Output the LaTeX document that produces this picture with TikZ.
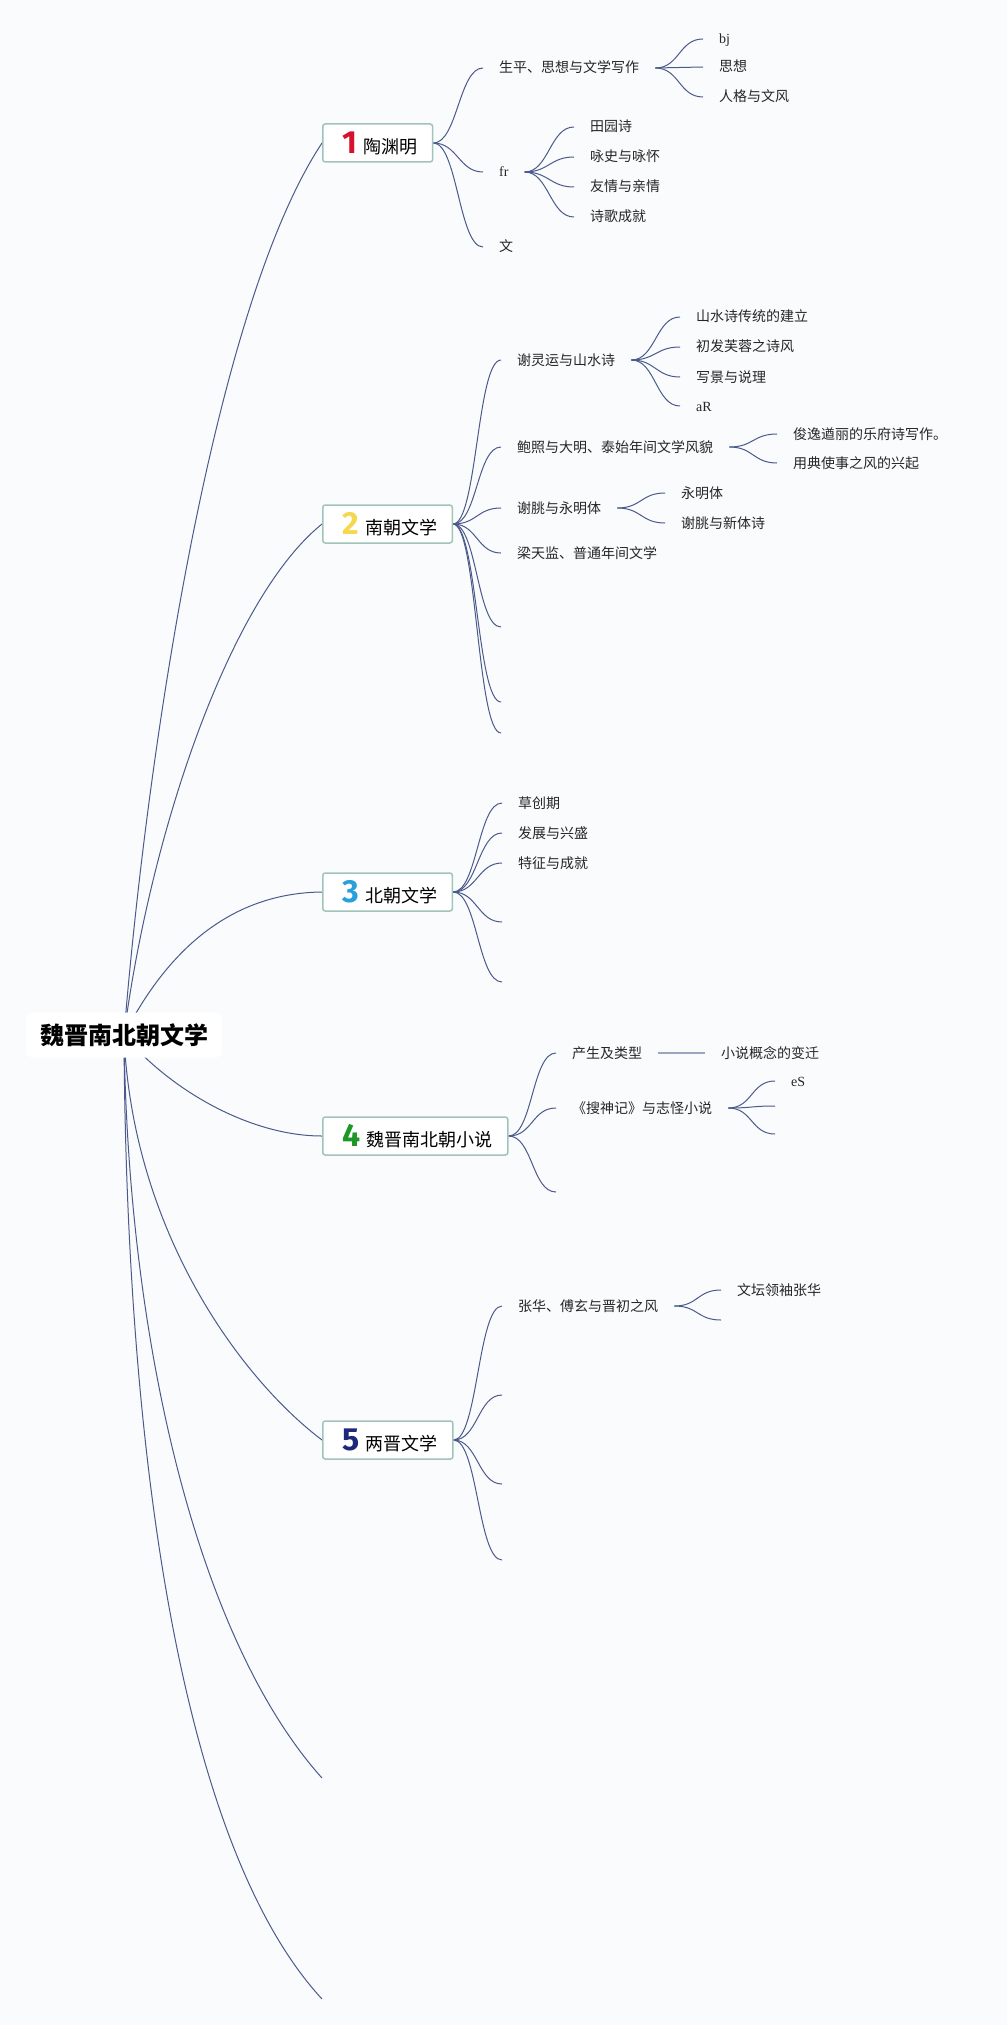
\documentclass[tikz,border=0pt]{standalone}
\usepackage{fontspec}
\usetikzlibrary{backgrounds}
\newfontfamily\cjk{Noto Sans CJK SC}
\newfontfamily\latn{Liberation Serif}
\newfontfamily\numfont{Fira Sans}
\definecolor{linkc}{RGB}{75,90,140}
\definecolor{boxc}{RGB}{160,196,185}
\definecolor{bgc}{RGB}{250,251,252}
\definecolor{n1}{RGB}{214,18,45}
\definecolor{n2}{RGB}{245,215,80}
\definecolor{n3}{RGB}{40,160,220}
\definecolor{n4}{RGB}{30,150,40}
\definecolor{n5}{RGB}{30,40,120}
\newcommand{\bnum}[2]{{\numfont\bfseries\fontsize{32pt}{32pt}\selectfont\color{#1}#2}}

\begin{document}
\begin{tikzpicture}[x=1pt,y=-1pt,
        link/.style={draw=linkc,line width=1pt},
        rootbox/.style={fill=white,rounded corners=6pt,minimum width=196pt,minimum height=45pt,
          font=\cjk\bfseries\fontsize{24pt}{28pt}\selectfont},
        mainbox/.style={draw=boxc,line width=1.5pt,fill=white,rounded corners=2.5pt,anchor=west,
          minimum height=38pt,inner xsep=0pt,inner ysep=0pt,font=\cjk\fontsize{18pt}{20pt}\selectfont},
        leaf/.style={anchor=west,inner xsep=16pt,inner ysep=0pt,text height=12pt,text depth=2pt,
          text=black!85,font=\cjk\fontsize{14pt}{16pt}\selectfont},
        latin/.style={leaf,font=\latn\fontsize{14pt}{16pt}\selectfont}
      ]
      \useasboundingbox (0,0) rectangle (1007,2025);
      \node [rootbox] (root) at (124,1035) {魏晋南北朝文学};
      \node [mainbox] (b1) at (322,143) {\hspace*{20pt}\bnum{n1}{1}\hspace{6pt}陶渊明\hspace*{15pt}};
      \node [mainbox] (b2) at (322,524) {\hspace*{20pt}\bnum{n2}{2}\hspace{6pt}南朝文学\hspace*{15pt}};
      \node [mainbox] (b3) at (322,892) {\hspace*{20pt}\bnum{n3}{3}\hspace{6pt}北朝文学\hspace*{15pt}};
      \node [mainbox] (b4) at (322,1136) {\hspace*{20pt}\bnum{n4}{4}\hspace{6pt}魏晋南北朝小说\hspace*{15pt}};
      \node [mainbox] (b5) at (322,1440) {\hspace*{20pt}\bnum{n5}{5}\hspace{6pt}两晋文学\hspace*{15pt}};
      \coordinate (b6) at (322,1778);
      \coordinate (b7) at (322,1999);
      % 陶渊明
      \node [leaf] (b1a) at (483,68) {生平、思想与文学写作};
      \node [latin] (b1b) at (483,172) {fr};
      \node [leaf] (b1c) at (483,247) {文};
      \node [latin] (b1a1) at (703,39) {bj};
      \node [leaf] (b1a2) at (703,67) {思想};
      \node [leaf] (b1a3) at (703,97) {人格与文风};
      \node [leaf] (b1b1) at (574,127) {田园诗};
      \node [leaf] (b1b2) at (574,157) {咏史与咏怀};
      \node [leaf] (b1b3) at (574,187) {友情与亲情};
      \node [leaf] (b1b4) at (574,217) {诗歌成就};
      % 南朝文学
      \node [leaf] (b2a) at (501,360) {谢灵运与山水诗};
      \node [leaf] (b2b) at (501,447) {鲍照与大明、泰始年间文学风貌};
      \node [leaf] (b2c) at (501,508) {谢朓与永明体};
      \node [leaf] (b2d) at (501,553) {梁天监、普通年间文学};
      \coordinate (b2e) at (501,627);
      \coordinate (b2f) at (501,702);
      \coordinate (b2g) at (501,733);
      \node [leaf] (b2a1) at (680,317) {山水诗传统的建立};
      \node [leaf] (b2a2) at (680,347) {初发芙蓉之诗风};
      \node [leaf] (b2a3) at (680,377) {写景与说理};
      \node [latin] (b2a4) at (680,406) {aR};
      \node [leaf] (b2b1) at (777,434) {俊逸遒丽的乐府诗写作。};
      \node [leaf] (b2b2) at (777,463) {用典使事之风的兴起};
      \node [leaf] (b2c1) at (665,493) {永明体};
      \node [leaf] (b2c2) at (665,523) {谢朓与新体诗};
      % 北朝文学
      \node [leaf] (b3a) at (502,803) {草创期};
      \node [leaf] (b3b) at (502,833) {发展与兴盛};
      \node [leaf] (b3c) at (502,863) {特征与成就};
      \coordinate (b3d) at (502,922);
      \coordinate (b3e) at (502,982);
      % 小说
      \node [leaf] (b4a) at (556,1053) {产生及类型};
      \node [leaf] (b4b) at (556,1108) {《搜神记》与志怪小说};
      \coordinate (b4c) at (556,1192);
      \node [leaf] (b4a1) at (705,1053) {小说概念的变迁};
      \node [latin] (b4b1) at (775,1081) {eS};
      \coordinate (b4b2) at (775,1106);
      \coordinate (b4b3) at (775,1134);
      % 两晋文学
      \node [leaf] (b5a) at (502,1306) {张华、傅玄与晋初之风};
      \coordinate (b5b) at (502,1395);
      \coordinate (b5c) at (502,1484);
      \coordinate (b5d) at (502,1560);
      \node [leaf] (b5a1) at (721,1290) {文坛领袖张华};
      \coordinate (b5a2) at (721,1320);

      \begin{scope}[on background layer]
        \fill [bgc] (0,0) rectangle (1007,2025);
        \draw [link] (root.center) .. controls +(22,-272) and +(-110,166) .. (b1.west);
        \draw [link] (root.center) .. controls +(26,-200) and +(-93,75) .. (b2.west);
        \draw [link] (root.center) .. controls +(46,-90) and +(-87,1) .. (b3.west);
        \draw [link] (root.center) .. controls +(46,55) and +(-72,0) .. (b4.west);
        \draw [link] (root.center) .. controls +(8,195) and +(-82,-62) .. (b5.west);
        \draw [link] (root.center) .. controls +(4,315) and +(-122,-136) .. (b6);
        \draw [link] (root.center) .. controls +(2,415) and +(-142,-154) .. (b7);
        % to labelled nodes
        \foreach \a/\b in {b1/b1a,b1/b1b,b1/b1c,b1a/b1a1,b1a/b1a2,b1a/b1a3,
            b1b/b1b1,b1b/b1b2,b1b/b1b3,b1b/b1b4,
            b2/b2a,b2/b2b,b2/b2c,b2/b2d,
            b2a/b2a1,b2a/b2a2,b2a/b2a3,b2a/b2a4,b2b/b2b1,b2b/b2b2,b2c/b2c1,b2c/b2c2,
            b3/b3a,b3/b3b,b3/b3c,b4/b4a,b4/b4b,b4b/b4b1,b5/b5a,b5a/b5a1}
          \draw [link] (\a.east) .. controls +(24,0) and +(-24,0) .. (\b.west);
        % to free ends
        \foreach \a/\b in {b2/b2e,b2/b2f,b2/b2g,b3/b3d,b3/b3e,b4/b4c,b4b/b4b2,b4b/b4b3,
            b5/b5b,b5/b5c,b5/b5d,b5a/b5a2}
          \draw [link] (\a.east) .. controls +(24,0) and +(-24,0) .. (\b);
        \draw [link,line width=1.5pt,draw=linkc!55] (b4a) -- (b4a1);
      \end{scope}
    \end{tikzpicture}
\end{document}
